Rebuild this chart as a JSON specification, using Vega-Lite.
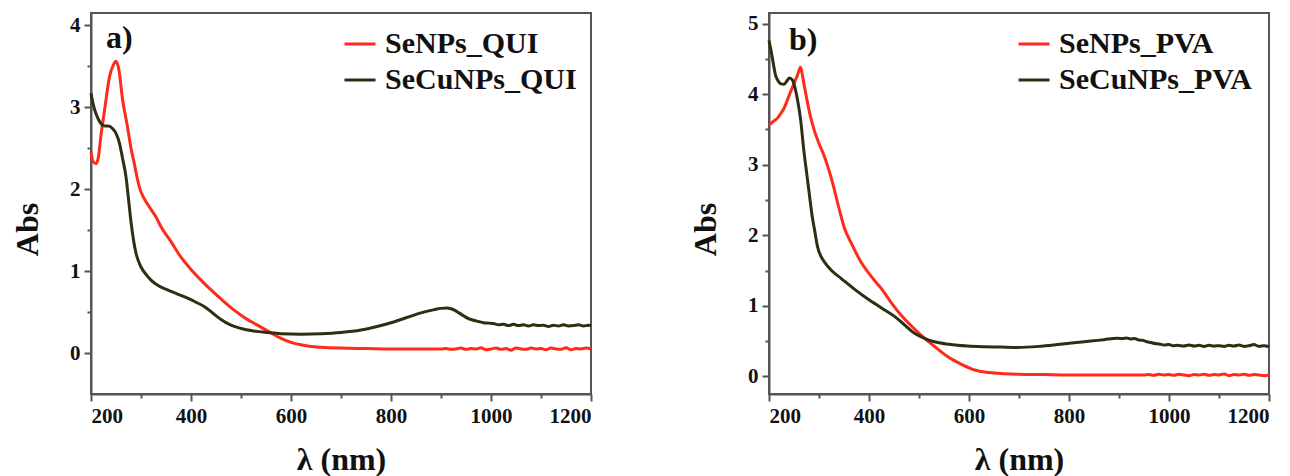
{
  "$schema": "https://vega.github.io/schema/vega-lite/v6.json",
  "background": "white",
  "padding": {"left": 10, "top": 11, "right": 0, "bottom": 0},
  "spacing": 178,
  "bounds": "flush",
  "datasets": {
    "qui": [
      {"lambda": 200, "abs": 2.45, "series": "SeNPs_QUI"},
      {"lambda": 204, "abs": 2.34, "series": "SeNPs_QUI"},
      {"lambda": 210, "abs": 2.31, "series": "SeNPs_QUI"},
      {"lambda": 215, "abs": 2.4, "series": "SeNPs_QUI"},
      {"lambda": 220, "abs": 2.66, "series": "SeNPs_QUI"},
      {"lambda": 227, "abs": 2.96, "series": "SeNPs_QUI"},
      {"lambda": 237, "abs": 3.37, "series": "SeNPs_QUI"},
      {"lambda": 245, "abs": 3.52, "series": "SeNPs_QUI"},
      {"lambda": 250, "abs": 3.56, "series": "SeNPs_QUI"},
      {"lambda": 256, "abs": 3.45, "series": "SeNPs_QUI"},
      {"lambda": 263, "abs": 3.1, "series": "SeNPs_QUI"},
      {"lambda": 273, "abs": 2.76, "series": "SeNPs_QUI"},
      {"lambda": 280, "abs": 2.5, "series": "SeNPs_QUI"},
      {"lambda": 287, "abs": 2.3, "series": "SeNPs_QUI"},
      {"lambda": 293, "abs": 2.12, "series": "SeNPs_QUI"},
      {"lambda": 298, "abs": 2.0, "series": "SeNPs_QUI"},
      {"lambda": 305, "abs": 1.9, "series": "SeNPs_QUI"},
      {"lambda": 315, "abs": 1.8, "series": "SeNPs_QUI"},
      {"lambda": 330, "abs": 1.66, "series": "SeNPs_QUI"},
      {"lambda": 340, "abs": 1.54, "series": "SeNPs_QUI"},
      {"lambda": 360, "abs": 1.36, "series": "SeNPs_QUI"},
      {"lambda": 380, "abs": 1.17, "series": "SeNPs_QUI"},
      {"lambda": 400, "abs": 1.02, "series": "SeNPs_QUI"},
      {"lambda": 420, "abs": 0.89, "series": "SeNPs_QUI"},
      {"lambda": 440, "abs": 0.77, "series": "SeNPs_QUI"},
      {"lambda": 460, "abs": 0.66, "series": "SeNPs_QUI"},
      {"lambda": 487, "abs": 0.52, "series": "SeNPs_QUI"},
      {"lambda": 510, "abs": 0.42, "series": "SeNPs_QUI"},
      {"lambda": 530, "abs": 0.35, "series": "SeNPs_QUI"},
      {"lambda": 553, "abs": 0.27, "series": "SeNPs_QUI"},
      {"lambda": 580, "abs": 0.18, "series": "SeNPs_QUI"},
      {"lambda": 600, "abs": 0.13, "series": "SeNPs_QUI"},
      {"lambda": 620, "abs": 0.1, "series": "SeNPs_QUI"},
      {"lambda": 640, "abs": 0.08, "series": "SeNPs_QUI"},
      {"lambda": 660, "abs": 0.07, "series": "SeNPs_QUI"},
      {"lambda": 700, "abs": 0.06, "series": "SeNPs_QUI"},
      {"lambda": 750, "abs": 0.055, "series": "SeNPs_QUI"},
      {"lambda": 800, "abs": 0.05, "series": "SeNPs_QUI"},
      {"lambda": 850, "abs": 0.05, "series": "SeNPs_QUI"},
      {"lambda": 900, "abs": 0.05, "series": "SeNPs_QUI"},
      {"lambda": 910, "abs": 0.055, "series": "SeNPs_QUI"},
      {"lambda": 920, "abs": 0.045, "series": "SeNPs_QUI"},
      {"lambda": 930, "abs": 0.05, "series": "SeNPs_QUI"},
      {"lambda": 940, "abs": 0.06, "series": "SeNPs_QUI"},
      {"lambda": 950, "abs": 0.045, "series": "SeNPs_QUI"},
      {"lambda": 960, "abs": 0.055, "series": "SeNPs_QUI"},
      {"lambda": 970, "abs": 0.05, "series": "SeNPs_QUI"},
      {"lambda": 980, "abs": 0.065, "series": "SeNPs_QUI"},
      {"lambda": 990, "abs": 0.04, "series": "SeNPs_QUI"},
      {"lambda": 1000, "abs": 0.05, "series": "SeNPs_QUI"},
      {"lambda": 1010, "abs": 0.06, "series": "SeNPs_QUI"},
      {"lambda": 1020, "abs": 0.045, "series": "SeNPs_QUI"},
      {"lambda": 1030, "abs": 0.055, "series": "SeNPs_QUI"},
      {"lambda": 1040, "abs": 0.035, "series": "SeNPs_QUI"},
      {"lambda": 1050, "abs": 0.06, "series": "SeNPs_QUI"},
      {"lambda": 1060, "abs": 0.05, "series": "SeNPs_QUI"},
      {"lambda": 1070, "abs": 0.045, "series": "SeNPs_QUI"},
      {"lambda": 1080, "abs": 0.06, "series": "SeNPs_QUI"},
      {"lambda": 1090, "abs": 0.05, "series": "SeNPs_QUI"},
      {"lambda": 1100, "abs": 0.055, "series": "SeNPs_QUI"},
      {"lambda": 1110, "abs": 0.04, "series": "SeNPs_QUI"},
      {"lambda": 1120, "abs": 0.06, "series": "SeNPs_QUI"},
      {"lambda": 1130, "abs": 0.05, "series": "SeNPs_QUI"},
      {"lambda": 1140, "abs": 0.045, "series": "SeNPs_QUI"},
      {"lambda": 1150, "abs": 0.065, "series": "SeNPs_QUI"},
      {"lambda": 1160, "abs": 0.04, "series": "SeNPs_QUI"},
      {"lambda": 1170, "abs": 0.055, "series": "SeNPs_QUI"},
      {"lambda": 1180, "abs": 0.05, "series": "SeNPs_QUI"},
      {"lambda": 1190, "abs": 0.06, "series": "SeNPs_QUI"},
      {"lambda": 1200, "abs": 0.05, "series": "SeNPs_QUI"},
      {"lambda": 200, "abs": 3.17, "series": "SeCuNPs_QUI"},
      {"lambda": 205, "abs": 3.02, "series": "SeCuNPs_QUI"},
      {"lambda": 210, "abs": 2.92, "series": "SeCuNPs_QUI"},
      {"lambda": 215, "abs": 2.85, "series": "SeCuNPs_QUI"},
      {"lambda": 220, "abs": 2.8, "series": "SeCuNPs_QUI"},
      {"lambda": 228, "abs": 2.77, "series": "SeCuNPs_QUI"},
      {"lambda": 235, "abs": 2.77, "series": "SeCuNPs_QUI"},
      {"lambda": 243, "abs": 2.74, "series": "SeCuNPs_QUI"},
      {"lambda": 250, "abs": 2.68, "series": "SeCuNPs_QUI"},
      {"lambda": 257, "abs": 2.56, "series": "SeCuNPs_QUI"},
      {"lambda": 263, "abs": 2.38, "series": "SeCuNPs_QUI"},
      {"lambda": 270, "abs": 2.15, "series": "SeCuNPs_QUI"},
      {"lambda": 275, "abs": 1.88, "series": "SeCuNPs_QUI"},
      {"lambda": 280, "abs": 1.6, "series": "SeCuNPs_QUI"},
      {"lambda": 285, "abs": 1.38, "series": "SeCuNPs_QUI"},
      {"lambda": 290, "abs": 1.22, "series": "SeCuNPs_QUI"},
      {"lambda": 300, "abs": 1.05, "series": "SeCuNPs_QUI"},
      {"lambda": 310, "abs": 0.96, "series": "SeCuNPs_QUI"},
      {"lambda": 320, "abs": 0.89, "series": "SeCuNPs_QUI"},
      {"lambda": 335, "abs": 0.82, "series": "SeCuNPs_QUI"},
      {"lambda": 353, "abs": 0.77, "series": "SeCuNPs_QUI"},
      {"lambda": 373, "abs": 0.72, "series": "SeCuNPs_QUI"},
      {"lambda": 393, "abs": 0.67, "series": "SeCuNPs_QUI"},
      {"lambda": 410, "abs": 0.62, "series": "SeCuNPs_QUI"},
      {"lambda": 427, "abs": 0.565, "series": "SeCuNPs_QUI"},
      {"lambda": 445, "abs": 0.48, "series": "SeCuNPs_QUI"},
      {"lambda": 460, "abs": 0.41, "series": "SeCuNPs_QUI"},
      {"lambda": 480, "abs": 0.34, "series": "SeCuNPs_QUI"},
      {"lambda": 500, "abs": 0.3, "series": "SeCuNPs_QUI"},
      {"lambda": 525, "abs": 0.27, "series": "SeCuNPs_QUI"},
      {"lambda": 553, "abs": 0.25, "series": "SeCuNPs_QUI"},
      {"lambda": 580, "abs": 0.235, "series": "SeCuNPs_QUI"},
      {"lambda": 620, "abs": 0.23, "series": "SeCuNPs_QUI"},
      {"lambda": 660, "abs": 0.235, "series": "SeCuNPs_QUI"},
      {"lambda": 700, "abs": 0.25, "series": "SeCuNPs_QUI"},
      {"lambda": 740, "abs": 0.28, "series": "SeCuNPs_QUI"},
      {"lambda": 770, "abs": 0.32, "series": "SeCuNPs_QUI"},
      {"lambda": 800, "abs": 0.37, "series": "SeCuNPs_QUI"},
      {"lambda": 830, "abs": 0.43, "series": "SeCuNPs_QUI"},
      {"lambda": 860, "abs": 0.49, "series": "SeCuNPs_QUI"},
      {"lambda": 887, "abs": 0.53, "series": "SeCuNPs_QUI"},
      {"lambda": 900, "abs": 0.545, "series": "SeCuNPs_QUI"},
      {"lambda": 912, "abs": 0.55, "series": "SeCuNPs_QUI"},
      {"lambda": 920, "abs": 0.54, "series": "SeCuNPs_QUI"},
      {"lambda": 928, "abs": 0.52, "series": "SeCuNPs_QUI"},
      {"lambda": 936, "abs": 0.49, "series": "SeCuNPs_QUI"},
      {"lambda": 945, "abs": 0.455, "series": "SeCuNPs_QUI"},
      {"lambda": 955, "abs": 0.42, "series": "SeCuNPs_QUI"},
      {"lambda": 965, "abs": 0.4, "series": "SeCuNPs_QUI"},
      {"lambda": 975, "abs": 0.385, "series": "SeCuNPs_QUI"},
      {"lambda": 985, "abs": 0.37, "series": "SeCuNPs_QUI"},
      {"lambda": 995, "abs": 0.365, "series": "SeCuNPs_QUI"},
      {"lambda": 1005, "abs": 0.36, "series": "SeCuNPs_QUI"},
      {"lambda": 1015, "abs": 0.345, "series": "SeCuNPs_QUI"},
      {"lambda": 1025, "abs": 0.35, "series": "SeCuNPs_QUI"},
      {"lambda": 1035, "abs": 0.335, "series": "SeCuNPs_QUI"},
      {"lambda": 1045, "abs": 0.35, "series": "SeCuNPs_QUI"},
      {"lambda": 1055, "abs": 0.335, "series": "SeCuNPs_QUI"},
      {"lambda": 1065, "abs": 0.345, "series": "SeCuNPs_QUI"},
      {"lambda": 1075, "abs": 0.33, "series": "SeCuNPs_QUI"},
      {"lambda": 1085, "abs": 0.345, "series": "SeCuNPs_QUI"},
      {"lambda": 1095, "abs": 0.335, "series": "SeCuNPs_QUI"},
      {"lambda": 1105, "abs": 0.34, "series": "SeCuNPs_QUI"},
      {"lambda": 1115, "abs": 0.325, "series": "SeCuNPs_QUI"},
      {"lambda": 1125, "abs": 0.34, "series": "SeCuNPs_QUI"},
      {"lambda": 1135, "abs": 0.33, "series": "SeCuNPs_QUI"},
      {"lambda": 1145, "abs": 0.345, "series": "SeCuNPs_QUI"},
      {"lambda": 1155, "abs": 0.33, "series": "SeCuNPs_QUI"},
      {"lambda": 1165, "abs": 0.335, "series": "SeCuNPs_QUI"},
      {"lambda": 1175, "abs": 0.345, "series": "SeCuNPs_QUI"},
      {"lambda": 1185, "abs": 0.33, "series": "SeCuNPs_QUI"},
      {"lambda": 1195, "abs": 0.34, "series": "SeCuNPs_QUI"},
      {"lambda": 1200, "abs": 0.335, "series": "SeCuNPs_QUI"}
    ],
    "pva": [
      {"lambda": 200, "abs": 3.56, "series": "SeNPs_PVA"},
      {"lambda": 210, "abs": 3.62, "series": "SeNPs_PVA"},
      {"lambda": 217, "abs": 3.66, "series": "SeNPs_PVA"},
      {"lambda": 223, "abs": 3.72, "series": "SeNPs_PVA"},
      {"lambda": 230, "abs": 3.8, "series": "SeNPs_PVA"},
      {"lambda": 237, "abs": 3.92, "series": "SeNPs_PVA"},
      {"lambda": 243, "abs": 4.03, "series": "SeNPs_PVA"},
      {"lambda": 250, "abs": 4.15, "series": "SeNPs_PVA"},
      {"lambda": 257, "abs": 4.27, "series": "SeNPs_PVA"},
      {"lambda": 263, "abs": 4.38, "series": "SeNPs_PVA"},
      {"lambda": 266, "abs": 4.3, "series": "SeNPs_PVA"},
      {"lambda": 271, "abs": 4.1, "series": "SeNPs_PVA"},
      {"lambda": 277, "abs": 3.88, "series": "SeNPs_PVA"},
      {"lambda": 283, "abs": 3.68, "series": "SeNPs_PVA"},
      {"lambda": 290, "abs": 3.5, "series": "SeNPs_PVA"},
      {"lambda": 300, "abs": 3.3, "series": "SeNPs_PVA"},
      {"lambda": 310, "abs": 3.13, "series": "SeNPs_PVA"},
      {"lambda": 325, "abs": 2.8, "series": "SeNPs_PVA"},
      {"lambda": 343, "abs": 2.3, "series": "SeNPs_PVA"},
      {"lambda": 351, "abs": 2.1, "series": "SeNPs_PVA"},
      {"lambda": 365, "abs": 1.88, "series": "SeNPs_PVA"},
      {"lambda": 384, "abs": 1.62, "series": "SeNPs_PVA"},
      {"lambda": 404, "abs": 1.42, "series": "SeNPs_PVA"},
      {"lambda": 424, "abs": 1.25, "series": "SeNPs_PVA"},
      {"lambda": 444, "abs": 1.05, "series": "SeNPs_PVA"},
      {"lambda": 464, "abs": 0.87, "series": "SeNPs_PVA"},
      {"lambda": 484, "abs": 0.72, "series": "SeNPs_PVA"},
      {"lambda": 504, "abs": 0.585, "series": "SeNPs_PVA"},
      {"lambda": 530, "abs": 0.43, "series": "SeNPs_PVA"},
      {"lambda": 557, "abs": 0.28, "series": "SeNPs_PVA"},
      {"lambda": 585, "abs": 0.17, "series": "SeNPs_PVA"},
      {"lambda": 611, "abs": 0.09, "series": "SeNPs_PVA"},
      {"lambda": 640, "abs": 0.055, "series": "SeNPs_PVA"},
      {"lambda": 664, "abs": 0.04, "series": "SeNPs_PVA"},
      {"lambda": 700, "abs": 0.03, "series": "SeNPs_PVA"},
      {"lambda": 750, "abs": 0.025, "series": "SeNPs_PVA"},
      {"lambda": 800, "abs": 0.02, "series": "SeNPs_PVA"},
      {"lambda": 850, "abs": 0.02, "series": "SeNPs_PVA"},
      {"lambda": 900, "abs": 0.02, "series": "SeNPs_PVA"},
      {"lambda": 950, "abs": 0.02, "series": "SeNPs_PVA"},
      {"lambda": 960, "abs": 0.025, "series": "SeNPs_PVA"},
      {"lambda": 970, "abs": 0.015, "series": "SeNPs_PVA"},
      {"lambda": 980, "abs": 0.03, "series": "SeNPs_PVA"},
      {"lambda": 990, "abs": 0.02, "series": "SeNPs_PVA"},
      {"lambda": 1000, "abs": 0.025, "series": "SeNPs_PVA"},
      {"lambda": 1010, "abs": 0.015, "series": "SeNPs_PVA"},
      {"lambda": 1020, "abs": 0.03, "series": "SeNPs_PVA"},
      {"lambda": 1030, "abs": 0.02, "series": "SeNPs_PVA"},
      {"lambda": 1040, "abs": 0.01, "series": "SeNPs_PVA"},
      {"lambda": 1050, "abs": 0.025, "series": "SeNPs_PVA"},
      {"lambda": 1060, "abs": 0.02, "series": "SeNPs_PVA"},
      {"lambda": 1070, "abs": 0.03, "series": "SeNPs_PVA"},
      {"lambda": 1080, "abs": 0.015, "series": "SeNPs_PVA"},
      {"lambda": 1090, "abs": 0.025, "series": "SeNPs_PVA"},
      {"lambda": 1100, "abs": 0.02, "series": "SeNPs_PVA"},
      {"lambda": 1110, "abs": 0.035, "series": "SeNPs_PVA"},
      {"lambda": 1120, "abs": 0.01, "series": "SeNPs_PVA"},
      {"lambda": 1130, "abs": 0.025, "series": "SeNPs_PVA"},
      {"lambda": 1140, "abs": 0.02, "series": "SeNPs_PVA"},
      {"lambda": 1150, "abs": 0.03, "series": "SeNPs_PVA"},
      {"lambda": 1160, "abs": 0.015, "series": "SeNPs_PVA"},
      {"lambda": 1170, "abs": 0.025, "series": "SeNPs_PVA"},
      {"lambda": 1180, "abs": 0.02, "series": "SeNPs_PVA"},
      {"lambda": 1190, "abs": 0.01, "series": "SeNPs_PVA"},
      {"lambda": 1200, "abs": 0.02, "series": "SeNPs_PVA"},
      {"lambda": 200, "abs": 4.76, "series": "SeCuNPs_PVA"},
      {"lambda": 204, "abs": 4.62, "series": "SeCuNPs_PVA"},
      {"lambda": 207, "abs": 4.5, "series": "SeCuNPs_PVA"},
      {"lambda": 213, "abs": 4.27, "series": "SeCuNPs_PVA"},
      {"lambda": 218, "abs": 4.19, "series": "SeCuNPs_PVA"},
      {"lambda": 223, "abs": 4.15, "series": "SeCuNPs_PVA"},
      {"lambda": 230, "abs": 4.14, "series": "SeCuNPs_PVA"},
      {"lambda": 236, "abs": 4.19, "series": "SeCuNPs_PVA"},
      {"lambda": 241, "abs": 4.23, "series": "SeCuNPs_PVA"},
      {"lambda": 247, "abs": 4.2, "series": "SeCuNPs_PVA"},
      {"lambda": 253, "abs": 4.06, "series": "SeCuNPs_PVA"},
      {"lambda": 258, "abs": 3.88, "series": "SeCuNPs_PVA"},
      {"lambda": 263, "abs": 3.65, "series": "SeCuNPs_PVA"},
      {"lambda": 270, "abs": 3.18, "series": "SeCuNPs_PVA"},
      {"lambda": 275, "abs": 2.9, "series": "SeCuNPs_PVA"},
      {"lambda": 280, "abs": 2.62, "series": "SeCuNPs_PVA"},
      {"lambda": 287, "abs": 2.24, "series": "SeCuNPs_PVA"},
      {"lambda": 291, "abs": 2.08, "series": "SeCuNPs_PVA"},
      {"lambda": 297, "abs": 1.84, "series": "SeCuNPs_PVA"},
      {"lambda": 304, "abs": 1.7, "series": "SeCuNPs_PVA"},
      {"lambda": 311, "abs": 1.62, "series": "SeCuNPs_PVA"},
      {"lambda": 325, "abs": 1.5, "series": "SeCuNPs_PVA"},
      {"lambda": 344, "abs": 1.39, "series": "SeCuNPs_PVA"},
      {"lambda": 370, "abs": 1.24, "series": "SeCuNPs_PVA"},
      {"lambda": 397, "abs": 1.1, "series": "SeCuNPs_PVA"},
      {"lambda": 425, "abs": 0.97, "series": "SeCuNPs_PVA"},
      {"lambda": 451, "abs": 0.85, "series": "SeCuNPs_PVA"},
      {"lambda": 471, "abs": 0.73, "series": "SeCuNPs_PVA"},
      {"lambda": 491, "abs": 0.61, "series": "SeCuNPs_PVA"},
      {"lambda": 511, "abs": 0.54, "series": "SeCuNPs_PVA"},
      {"lambda": 531, "abs": 0.49, "series": "SeCuNPs_PVA"},
      {"lambda": 560, "abs": 0.455, "series": "SeCuNPs_PVA"},
      {"lambda": 597, "abs": 0.43, "series": "SeCuNPs_PVA"},
      {"lambda": 630, "abs": 0.42, "series": "SeCuNPs_PVA"},
      {"lambda": 664, "abs": 0.415, "series": "SeCuNPs_PVA"},
      {"lambda": 697, "abs": 0.41, "series": "SeCuNPs_PVA"},
      {"lambda": 740, "abs": 0.425, "series": "SeCuNPs_PVA"},
      {"lambda": 777, "abs": 0.45, "series": "SeCuNPs_PVA"},
      {"lambda": 810, "abs": 0.475, "series": "SeCuNPs_PVA"},
      {"lambda": 844, "abs": 0.5, "series": "SeCuNPs_PVA"},
      {"lambda": 870, "abs": 0.52, "series": "SeCuNPs_PVA"},
      {"lambda": 897, "abs": 0.54, "series": "SeCuNPs_PVA"},
      {"lambda": 908, "abs": 0.535, "series": "SeCuNPs_PVA"},
      {"lambda": 915, "abs": 0.545, "series": "SeCuNPs_PVA"},
      {"lambda": 923, "abs": 0.53, "series": "SeCuNPs_PVA"},
      {"lambda": 931, "abs": 0.535, "series": "SeCuNPs_PVA"},
      {"lambda": 940, "abs": 0.515, "series": "SeCuNPs_PVA"},
      {"lambda": 948, "abs": 0.51, "series": "SeCuNPs_PVA"},
      {"lambda": 956, "abs": 0.49, "series": "SeCuNPs_PVA"},
      {"lambda": 964, "abs": 0.48, "series": "SeCuNPs_PVA"},
      {"lambda": 972, "abs": 0.465, "series": "SeCuNPs_PVA"},
      {"lambda": 980, "abs": 0.46, "series": "SeCuNPs_PVA"},
      {"lambda": 990, "abs": 0.445, "series": "SeCuNPs_PVA"},
      {"lambda": 1000, "abs": 0.45, "series": "SeCuNPs_PVA"},
      {"lambda": 1008, "abs": 0.435, "series": "SeCuNPs_PVA"},
      {"lambda": 1017, "abs": 0.44, "series": "SeCuNPs_PVA"},
      {"lambda": 1030, "abs": 0.43, "series": "SeCuNPs_PVA"},
      {"lambda": 1040, "abs": 0.445, "series": "SeCuNPs_PVA"},
      {"lambda": 1050, "abs": 0.43, "series": "SeCuNPs_PVA"},
      {"lambda": 1060, "abs": 0.44, "series": "SeCuNPs_PVA"},
      {"lambda": 1070, "abs": 0.425, "series": "SeCuNPs_PVA"},
      {"lambda": 1080, "abs": 0.44, "series": "SeCuNPs_PVA"},
      {"lambda": 1090, "abs": 0.43, "series": "SeCuNPs_PVA"},
      {"lambda": 1100, "abs": 0.435, "series": "SeCuNPs_PVA"},
      {"lambda": 1110, "abs": 0.425, "series": "SeCuNPs_PVA"},
      {"lambda": 1120, "abs": 0.44, "series": "SeCuNPs_PVA"},
      {"lambda": 1130, "abs": 0.43, "series": "SeCuNPs_PVA"},
      {"lambda": 1140, "abs": 0.445, "series": "SeCuNPs_PVA"},
      {"lambda": 1150, "abs": 0.425, "series": "SeCuNPs_PVA"},
      {"lambda": 1160, "abs": 0.435, "series": "SeCuNPs_PVA"},
      {"lambda": 1170, "abs": 0.45, "series": "SeCuNPs_PVA"},
      {"lambda": 1180, "abs": 0.425, "series": "SeCuNPs_PVA"},
      {"lambda": 1190, "abs": 0.435, "series": "SeCuNPs_PVA"},
      {"lambda": 1200, "abs": 0.42, "series": "SeCuNPs_PVA"}
    ]
  },
  "hconcat": [
    {
      "width": 500,
      "height": 381,
      "layer": [
        {
          "data": {"name": "qui"},
          "mark": {"type": "line", "strokeWidth": 3, "interpolate": "monotone"},
          "encoding": {
            "x": {"field": "lambda", "type": "quantitative",
              "scale": {"domain": [200, 1200], "nice": false, "zero": false},
              "axis": {"orient": "bottom", "values": [200, 400, 600, 800, 1000, 1200], "format": "d", "title": "λ (nm)", "tickSize": 7, "titleY": 75, "titleBaseline": "alphabetic"}},
            "y": {"field": "abs", "type": "quantitative",
              "scale": {"domain": [-0.5, 4.15], "nice": false, "zero": false},
              "axis": {"orient": "left", "values": [0, 1, 2, 3, 4], "format": "d", "title": "Abs", "tickSize": 7, "titleX": -54, "titleY": 216, "titleBaseline": "alphabetic"}},
            "color": {"field": "series", "type": "nominal",
              "scale": {"domain": ["SeNPs_QUI", "SeCuNPs_QUI"], "range": ["#ff2b1a", "#2e2e10"]},
              "legend": {"orient": "none", "legendX": 252, "legendY": 14, "title": null}}
          }
        },
        {
          "data": {"values": [{"lambda": 230, "abs": 3.72, "label": "a)"}]},
          "mark": {"type": "text", "align": "left", "baseline": "alphabetic", "font": "Liberation Serif", "fontWeight": "bold", "fontSize": 32, "color": "#111"},
          "encoding": {
            "x": {"field": "lambda", "type": "quantitative",
              "scale": {"domain": [200, 1200], "nice": false, "zero": false},
              "axis": {"orient": "bottom", "values": [300, 500, 700, 900, 1100], "labels": false, "domain": false, "tickSize": 4, "title": null}},
            "y": {"field": "abs", "type": "quantitative",
              "scale": {"domain": [-0.5, 4.15], "nice": false, "zero": false},
              "axis": {"orient": "left", "values": [0.5, 1.5, 2.5, 3.5], "labels": false, "domain": false, "tickSize": 4, "title": null}},
            "text": {"field": "label"}
          }
        }
      ],
      "resolve": {"axis": {"x": "independent", "y": "independent"}}
    },
    {
      "width": 500,
      "height": 381,
      "layer": [
        {
          "data": {"name": "pva"},
          "mark": {"type": "line", "strokeWidth": 3, "interpolate": "monotone"},
          "encoding": {
            "x": {"field": "lambda", "type": "quantitative",
              "scale": {"domain": [200, 1200], "nice": false, "zero": false},
              "axis": {"orient": "bottom", "values": [200, 400, 600, 800, 1000, 1200], "format": "d", "title": "λ (nm)", "tickSize": 7, "titleY": 75, "titleBaseline": "alphabetic"}},
            "y": {"field": "abs", "type": "quantitative",
              "scale": {"domain": [-0.25, 5.15], "nice": false, "zero": false},
              "axis": {"orient": "left", "values": [0, 1, 2, 3, 4, 5], "format": "d", "title": "Abs", "tickSize": 7, "titleX": -54, "titleY": 216, "titleBaseline": "alphabetic"}},
            "color": {"field": "series", "type": "nominal",
              "scale": {"domain": ["SeNPs_PVA", "SeCuNPs_PVA"], "range": ["#ff2b1a", "#2e2e10"]},
              "legend": {"orient": "none", "legendX": 248, "legendY": 14, "title": null}}
          }
        },
        {
          "data": {"values": [{"lambda": 240, "abs": 4.62, "label": "b)"}]},
          "mark": {"type": "text", "align": "left", "baseline": "alphabetic", "font": "Liberation Serif", "fontWeight": "bold", "fontSize": 32, "color": "#111"},
          "encoding": {
            "x": {"field": "lambda", "type": "quantitative",
              "scale": {"domain": [200, 1200], "nice": false, "zero": false},
              "axis": {"orient": "bottom", "values": [300, 500, 700, 900, 1100], "labels": false, "domain": false, "tickSize": 4, "title": null}},
            "y": {"field": "abs", "type": "quantitative",
              "scale": {"domain": [-0.25, 5.15], "nice": false, "zero": false},
              "axis": {"orient": "left", "values": [0.5, 1.5, 2.5, 3.5, 4.5], "labels": false, "domain": false, "tickSize": 4, "title": null}},
            "text": {"field": "label"}
          }
        }
      ],
      "resolve": {"axis": {"x": "independent", "y": "independent"}}
    }
  ],
  "resolve": {"scale": {"color": "independent"}},
  "config": {
    "view": {"stroke": "#555", "strokeWidth": 2},
    "axis": {
      "grid": false,
      "domainColor": "#555",
      "domainWidth": 2,
      "tickColor": "#555",
      "tickWidth": 2,
      "labelPadding": 4,
      "labelFont": "Liberation Serif",
      "labelFontWeight": "bold",
      "labelFontSize": 21,
      "labelColor": "#111",
      "titleFont": "Liberation Serif",
      "titleFontWeight": "bold",
      "titleFontSize": 32,
      "titleColor": "#111"
    },
    "legend": {
      "labelFont": "Liberation Serif",
      "labelFontWeight": "bold",
      "labelFontSize": 30,
      "labelColor": "#111",
      "labelLimit": 400,
      "labelOffset": 8,
      "symbolType": "stroke",
      "symbolStrokeWidth": 3,
      "symbolSize": 961,
      "rowPadding": 4
    }
  }
}
